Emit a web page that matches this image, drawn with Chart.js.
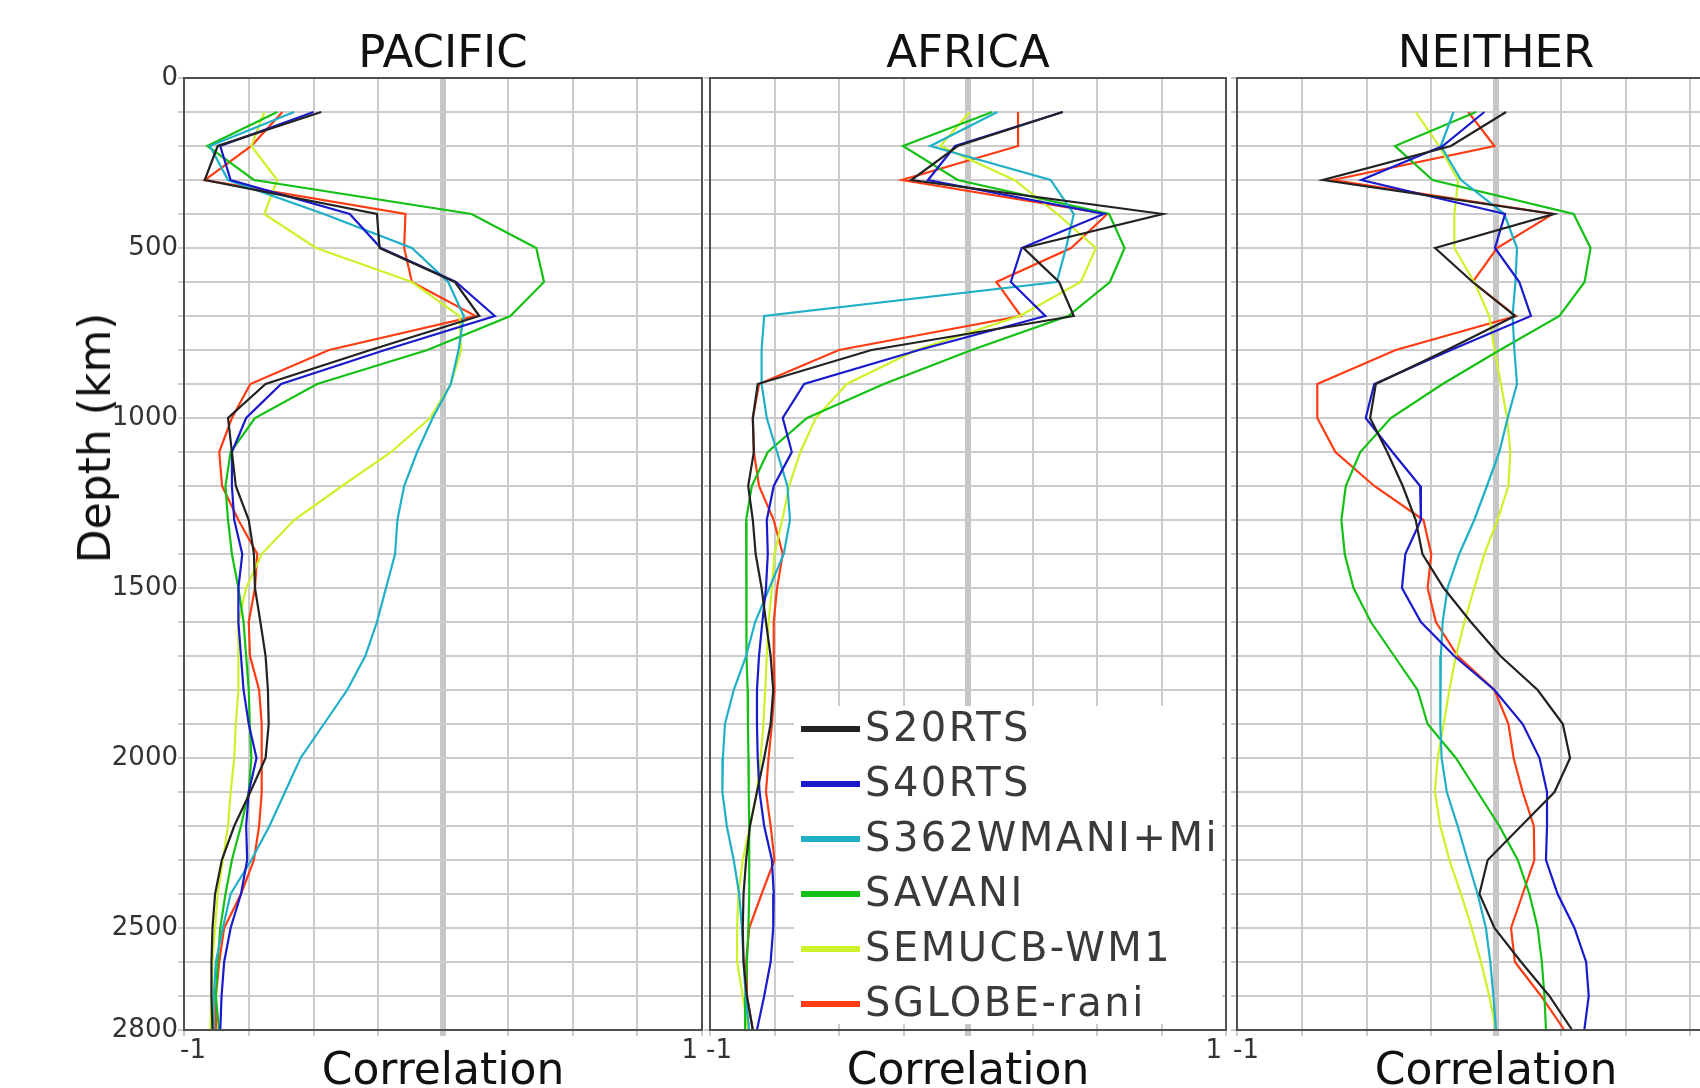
<!DOCTYPE html>
<html>
<head>
<meta charset="utf-8">
<script src="https://cdn.jsdelivr.net/npm/chart.js@4.4.1/dist/chart.umd.min.js"></script>
<style>
html, body { margin:0; padding:0; background:#fff; overflow:hidden; }
#wrap { position:relative; width:1700px; height:1088px; overflow:hidden; background:#fff; font-family:"DejaVu Sans", sans-serif; }
canvas { position:absolute; top:0; }
#ylab { position:absolute; left:95px; top:438px; transform:translate(-50%,-50%) rotate(-90deg); font-size:44px; line-height:44px; white-space:nowrap; color:#111; }
#legend { position:absolute; left:794px; top:706px; width:428px; height:318px; background:#fff; }
.lg-sw { position:absolute; left:7px; width:59px; height:6px; }
.lg-tx { position:absolute; left:71px; font-size:40px; line-height:40px; letter-spacing:2.5px; color:#3a3a3a; white-space:nowrap; }
</style>
</head>
<body>
<div id="wrap">
  <canvas id="c1" width="716" height="1100" style="left:0px;width:716px;height:1100px"></canvas>
  <canvas id="c2" width="550" height="1100" style="left:690px;width:550px;height:1100px"></canvas>
  <canvas id="c3" width="553" height="1100" style="left:1216px;width:553px;height:1100px"></canvas>
  <div id="ylab">Depth (km)</div>
  <div id="legend"></div>
</div>
<script>
// ---------------- data ----------------
const depths = [100,200,300,400,500,600,700,800,900,1000,1100,1200,1300,1400,1500,1600,1700,1800,1900,2000,2100,2200,2300,2400,2500,2600,2700,2800];
const depthGrid = [0,100,200,300,400,500,600,700,800,900,1000,1100,1200,1300,1400,1500,1600,1700,1800,1900,2000,2100,2200,2300,2400,2500,2600,2700,2800];
const depthLabels = [0,500,1000,1500,2000,2500,2800];
const corrGrid = [-1,-0.75,-0.5,-0.25,0,0.25,0.5,0.75,1];
const corrLabels = [-1,1];
const regionTitles = ['PACIFIC','AFRICA','NEITHER'];
const modelNames = ['S20RTS','S40RTS','S362WMANI+Mi','SAVANI','SEMUCB-WM1','SGLOBE-rani'];
const modelColors = ['#222222','#1a1acd','#1fb0c8','#14c014','#ccf22a','#ff3c14'];

// PACIFIC
const pacS20RTS = [-0.47,-0.87,-0.92,-0.255,-0.245,0.046,0.14,-0.28,-0.685,-0.83,-0.815,-0.80,-0.75,-0.73,-0.726,-0.705,-0.685,-0.676,-0.673,-0.685,-0.744,-0.806,-0.854,-0.88,-0.89,-0.894,-0.894,-0.89];
const pacS40RTS = [-0.50,-0.86,-0.82,-0.36,-0.24,0.05,0.20,-0.224,-0.625,-0.76,-0.815,-0.815,-0.806,-0.775,-0.79,-0.79,-0.78,-0.77,-0.75,-0.72,-0.75,-0.76,-0.756,-0.78,-0.82,-0.845,-0.855,-0.86];
const pacS362 = [-0.575,-0.90,-0.83,-0.46,-0.12,0.02,0.08,0.06,0.03,-0.04,-0.10,-0.15,-0.176,-0.185,-0.22,-0.255,-0.30,-0.37,-0.46,-0.55,-0.61,-0.67,-0.74,-0.82,-0.85,-0.877,-0.885,-0.885];
const pacSAVANI = [-0.64,-0.91,-0.73,0.11,0.36,0.39,0.26,-0.06,-0.486,-0.726,-0.82,-0.84,-0.83,-0.815,-0.79,-0.77,-0.76,-0.75,-0.746,-0.74,-0.75,-0.78,-0.815,-0.84,-0.86,-0.87,-0.877,-0.865];
const pacSEMUCB = [-0.69,-0.74,-0.64,-0.69,-0.49,-0.12,0.064,0.07,0.03,-0.05,-0.20,-0.39,-0.575,-0.70,-0.76,-0.79,-0.79,-0.79,-0.80,-0.806,-0.82,-0.83,-0.85,-0.87,-0.88,-0.89,-0.894,-0.898];
const pacSGLOBE = [-0.62,-0.74,-0.92,-0.145,-0.15,-0.12,0.126,-0.44,-0.744,-0.815,-0.864,-0.853,-0.79,-0.717,-0.726,-0.75,-0.745,-0.71,-0.70,-0.70,-0.70,-0.71,-0.73,-0.78,-0.845,-0.864,-0.877,-0.877];

// AFRICA
const afrS20RTS = [0.367,-0.04,-0.22,0.755,0.215,0.353,0.41,-0.374,-0.815,-0.834,-0.83,-0.852,-0.834,-0.823,-0.80,-0.783,-0.765,-0.755,-0.765,-0.79,-0.818,-0.845,-0.86,-0.87,-0.873,-0.87,-0.857,-0.834];
const afrS40RTS = [0.367,-0.05,-0.155,0.527,0.208,0.166,0.30,-0.19,-0.635,-0.718,-0.683,-0.753,-0.78,-0.776,-0.783,-0.797,-0.81,-0.818,-0.818,-0.815,-0.808,-0.79,-0.76,-0.753,-0.755,-0.765,-0.79,-0.818];
const afrS362 = [0.114,-0.146,0.32,0.41,0.38,0.344,-0.79,-0.80,-0.80,-0.78,-0.74,-0.70,-0.69,-0.714,-0.77,-0.825,-0.86,-0.908,-0.942,-0.95,-0.952,-0.935,-0.908,-0.887,-0.876,-0.87,-0.862,-0.848];
const afrSAVANI = [0.094,-0.252,-0.04,0.547,0.607,0.55,0.388,0.014,-0.326,-0.624,-0.776,-0.838,-0.86,-0.86,-0.86,-0.857,-0.857,-0.854,-0.853,-0.851,-0.85,-0.848,-0.848,-0.848,-0.851,-0.857,-0.862,-0.864];
const afrSEMUCB = [0.007,-0.107,0.18,0.346,0.496,0.437,0.20,-0.20,-0.47,-0.59,-0.65,-0.693,-0.72,-0.75,-0.76,-0.773,-0.78,-0.786,-0.793,-0.804,-0.818,-0.845,-0.873,-0.89,-0.895,-0.895,-0.873,-0.852];
const afrSGLOBE = [0.194,0.194,-0.256,0.54,0.40,0.11,0.205,-0.50,-0.81,-0.834,-0.83,-0.81,-0.753,-0.718,-0.74,-0.753,-0.753,-0.75,-0.76,-0.773,-0.783,-0.765,-0.75,-0.80,-0.848,-0.86,-0.857,-0.834];

// NEITHER
const neiS20RTS = [0.039,-0.174,-0.668,0.223,-0.235,-0.09,0.073,-0.19,-0.464,-0.486,-0.42,-0.36,-0.31,-0.284,-0.202,-0.097,0.017,0.161,0.258,0.286,0.226,0.097,-0.032,-0.064,-0.006,0.097,0.206,0.294];
const neiS40RTS = [-0.045,-0.206,-0.52,0.035,-0.004,0.09,0.135,-0.174,-0.47,-0.503,-0.40,-0.293,-0.29,-0.35,-0.363,-0.29,-0.161,-0.006,0.103,0.168,0.197,0.197,0.193,0.238,0.303,0.348,0.358,0.341];
const neiS362 = [-0.164,-0.213,-0.135,0.032,0.081,0.075,0.064,0.071,0.081,0.045,0.013,-0.035,-0.084,-0.142,-0.187,-0.206,-0.213,-0.215,-0.215,-0.21,-0.19,-0.148,-0.11,-0.071,-0.039,-0.022,-0.01,0.0];
const neiSAVANI = [-0.077,-0.39,-0.245,0.30,0.365,0.342,0.245,0.015,-0.206,-0.406,-0.524,-0.58,-0.597,-0.584,-0.55,-0.483,-0.393,-0.303,-0.264,-0.155,-0.071,0.013,0.084,0.129,0.161,0.177,0.187,0.193];
const neiSEMUCB = [-0.31,-0.22,-0.146,-0.161,-0.161,-0.084,-0.026,-0.006,0.019,0.043,0.055,0.048,0.006,-0.045,-0.084,-0.122,-0.155,-0.18,-0.202,-0.225,-0.236,-0.215,-0.18,-0.135,-0.094,-0.058,-0.026,0.0];
const neiSGLOBE = [-0.107,-0.006,-0.63,0.22,0.004,-0.09,0.077,-0.387,-0.69,-0.69,-0.62,-0.47,-0.28,-0.25,-0.264,-0.232,-0.148,-0.006,0.048,0.068,0.103,0.146,0.148,0.103,0.058,0.073,0.174,0.264];

const regionSeries = [
  [pacS20RTS, pacS40RTS, pacS362, pacSAVANI, pacSEMUCB, pacSGLOBE],
  [afrS20RTS, afrS40RTS, afrS362, afrSAVANI, afrSEMUCB, afrSGLOBE],
  [neiS20RTS, neiS40RTS, neiS362, neiSAVANI, neiSEMUCB, neiSGLOBE]
];

// ---------------- drawing ----------------
const FONT = '"DejaVu Sans", sans-serif';

const framePlugin = {
  id: 'frame',
  afterDatasetsDraw(chart) {
    const a = chart.chartArea, ctx = chart.ctx;
    ctx.save();
    ctx.strokeStyle = '#505050';
    ctx.lineWidth = 2;
    ctx.strokeRect(a.left, a.top, a.right - a.left, a.bottom - a.top);
    ctx.restore();
  }
};

function makeChart(canvasId, regionIdx, yAxisWidth, showYLabels) {
  const datasets = modelNames.map((name, m) => ({
    label: name,
    data: depths.map((d, i) => ({ x: regionSeries[regionIdx][m][i], y: d })),
    borderColor: modelColors[m],
    backgroundColor: modelColors[m],
    borderWidth: 2.2,
    showLine: true,
    pointRadius: 0,
    pointHoverRadius: 0,
    tension: 0,
    fill: false
  }));
  return new Chart(document.getElementById(canvasId), {
    type: 'scatter',
    data: { datasets },
    plugins: [framePlugin],
    options: {
      responsive: false,
      animation: false,
      events: [],
      layout: { padding: { left: 0, right: 14, top: 0, bottom: 0 } },
      plugins: {
        legend: { display: false },
        tooltip: { enabled: false },
        title: {
          display: true,
          text: regionTitles[regionIdx],
          fullSize: false,
          color: '#111',
          font: { family: FONT, size: 45, weight: 'normal', lineHeight: 1 },
          padding: { top: 33, bottom: 0 }
        }
      },
      scales: {
        x: {
          type: 'linear',
          min: -1, max: 1,
          afterBuildTicks: (s) => { s.ticks = corrGrid.map(v => ({ value: v })); },
          afterFit: (s) => { s.height = 70; },
          ticks: {
            autoSkip: false, maxRotation: 0, minRotation: 0,
            align: 'inner',
            labelOffset: -4,
            padding: 0,
            color: '#333',
            font: { family: FONT, size: 26 },
            callback: (v) => corrLabels.includes(v) ? String(v) : ''
          },
          grid: {
            drawTicks: true,
            tickLength: 6,
            color: (c) => (c.tick && c.tick.value === 0) ? '#c6c6c6' : '#cccccc',
            lineWidth: (c) => (c.tick && c.tick.value === 0) ? 6 : 2
          },
          border: { display: false },
          title: {
            display: true,
            text: 'Correlation',
            color: '#111',
            font: { family: FONT, size: 44, weight: 'normal', lineHeight: 1 },
            padding: { top: 0, bottom: 5 }
          }
        },
        y: {
          type: 'linear',
          reverse: true,
          min: 0, max: 2800,
          afterBuildTicks: (s) => { s.ticks = depthGrid.map(v => ({ value: v })); },
          afterFit: (s) => { s.width = yAxisWidth; },
          ticks: {
            autoSkip: false,
            padding: 0,
            color: '#333',
            font: { family: FONT, size: 26 },
            callback: (v) => (showYLabels && depthLabels.includes(v)) ? String(v) : ''
          },
          grid: {
            drawTicks: true,
            tickLength: 6,
            color: '#cccccc',
            lineWidth: 2
          },
          border: { display: false }
        }
      }
    }
  });
}

makeChart('c1', 0, 184, true);
makeChart('c2', 1, 20, false);
makeChart('c3', 2, 21, false);

// HTML legend built from the series names/colours
const lg = document.getElementById('legend');
modelNames.forEach((name, i) => {
  const sw = document.createElement('div');
  sw.className = 'lg-sw';
  sw.style.top = (20 + i * 55) + 'px';
  sw.style.background = modelColors[i];
  lg.appendChild(sw);
  const tx = document.createElement('div');
  tx.className = 'lg-tx';
  tx.style.top = (1 + i * 55) + 'px';
  tx.textContent = name;
  lg.appendChild(tx);
});
</script>
</body>
</html>
